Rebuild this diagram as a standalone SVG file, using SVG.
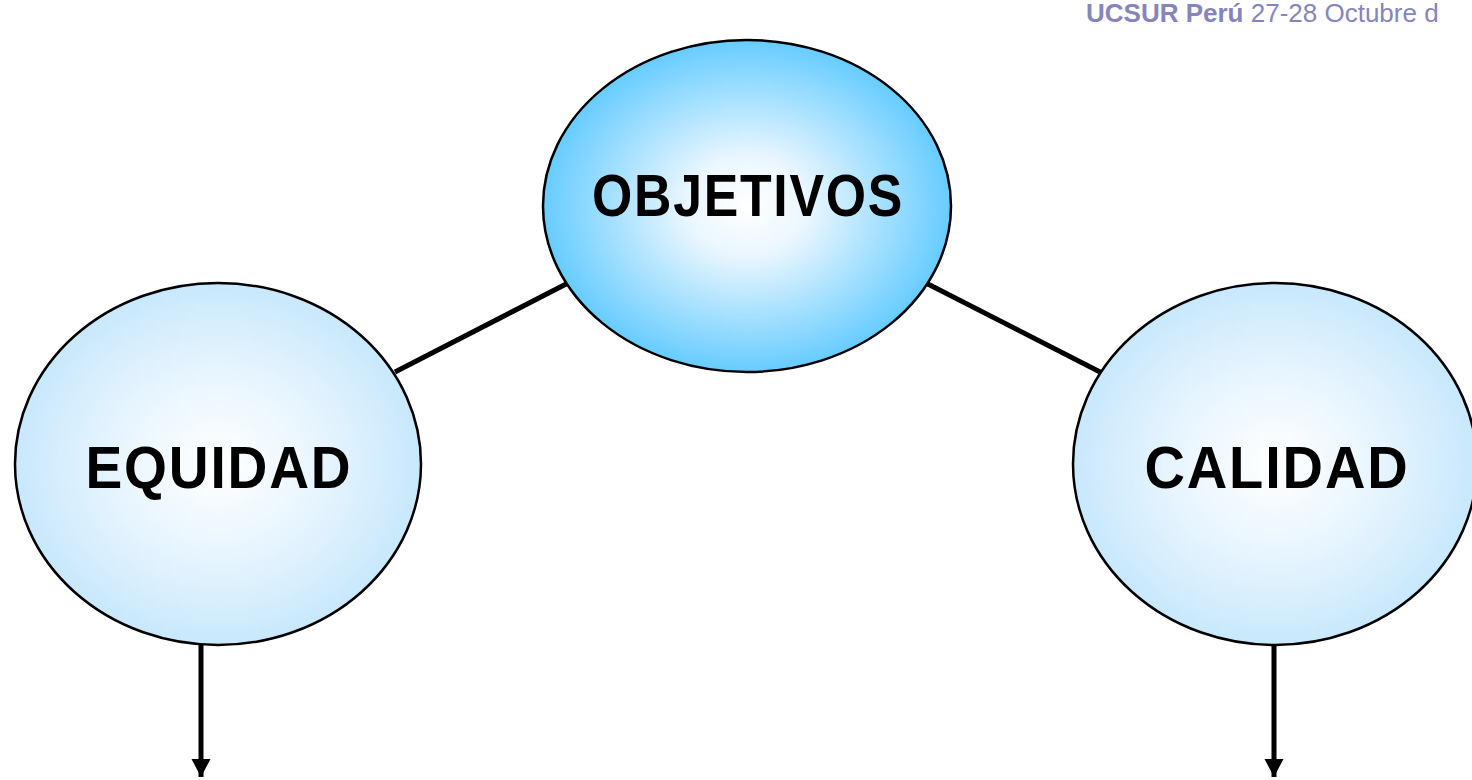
<svg xmlns="http://www.w3.org/2000/svg" width="1472" height="780" viewBox="0 0 1472 780">
<defs>
<radialGradient id="gDark" cx="50%" cy="50%" r="50%">
<stop offset="0" stop-color="#ffffff"/>
<stop offset="0.3" stop-color="#eaf6ff"/>
<stop offset="1" stop-color="#66ccff"/>
</radialGradient>
<radialGradient id="gLight" cx="50%" cy="50%" r="50%">
<stop offset="0" stop-color="#ffffff"/>
<stop offset="0.5" stop-color="#e8f5fe"/>
<stop offset="1" stop-color="#c8e8fc"/>
</radialGradient>
<marker id="arrow" markerUnits="userSpaceOnUse" markerWidth="20" markerHeight="20" refX="18" refY="10" orient="auto">
<path d="M0,0.5 L18,10 L0,19.5 Z" fill="#000"/>
</marker>
</defs>
<style>
.node{stroke:#000;stroke-width:2.5}
.lbl{font-family:"Liberation Sans",Arial,sans-serif;font-weight:bold;font-size:60px;fill:#000;text-anchor:middle;letter-spacing:2px}
.conn{stroke:#000;stroke-width:5;fill:none}
.hdr{font-family:"Liberation Sans",Arial,sans-serif;font-size:26px;fill:#8585bb}
</style>
<rect width="1472" height="780" fill="#fff"/>
<text class="hdr" x="1086" y="22"><tspan font-weight="bold">UCSUR Perú</tspan> 27-28 Octubre d</text>
<g id="connectors">
<line class="conn" x1="395" y1="372" x2="572" y2="281"/>
<line class="conn" x1="922" y1="281" x2="1104" y2="374"/>
<line class="conn" x1="201" y1="645" x2="201" y2="777" marker-end="url(#arrow)"/>
<line class="conn" x1="1274" y1="645" x2="1274" y2="777" marker-end="url(#arrow)"/>
</g>
<g id="objetivos">
<ellipse class="node" cx="747" cy="206" rx="204" ry="166" fill="url(#gDark)"/>
<text class="lbl" x="748" y="216" textLength="312" lengthAdjust="spacingAndGlyphs">OBJETIVOS</text>
</g>
<g id="equidad">
<ellipse class="node" cx="218" cy="464" rx="203" ry="181" fill="url(#gLight)"/>
<text class="lbl" x="219" y="488" textLength="267" lengthAdjust="spacingAndGlyphs">EQUIDAD</text>
</g>
<g id="calidad">
<ellipse class="node" cx="1275" cy="464" rx="202" ry="181" fill="url(#gLight)"/>
<text class="lbl" x="1277" y="488" textLength="265" lengthAdjust="spacingAndGlyphs">CALIDAD</text>
</g>
</svg>
